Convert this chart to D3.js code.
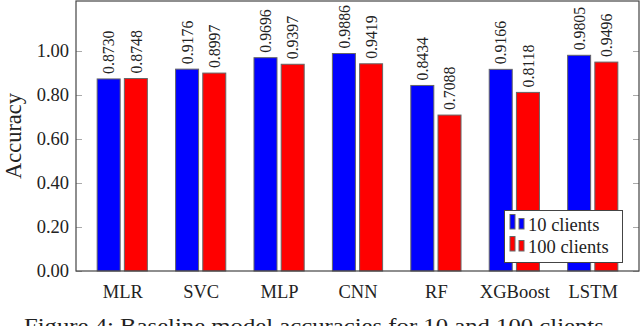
<!DOCTYPE html>
<html>
<head>
<meta charset="utf-8">
<script src="https://cdn.jsdelivr.net/npm/d3@7"></script>
<style>
  body { margin: 0; background: #fff; }
  svg { display: block; font-family: "Liberation Serif", "DejaVu Serif", serif; }
</style>
</head>
<body>
<svg id="chart"></svg>
<script>
// data
const models = ["MLR", "SVC", "MLP", "CNN", "RF", "XGBoost", "LSTM"];
const acc10 = [0.8730, 0.9176, 0.9696, 0.9886, 0.8434, 0.9166, 0.9805];
const acc100 = [0.8748, 0.8997, 0.9397, 0.9419, 0.7088, 0.8118, 0.9496];
const seriesNames = ["10 clients", "100 clients"];
const yTicks = [0, 0.2, 0.4, 0.6, 0.8, 1.0];

const width = 640;
const height = 326;
const plotL = 76, plotR = 639, plotT = 1, plotB = 271;
const yMax = 1.2273;

const svg = d3.select("#chart")
    .attr("width", width)
    .attr("height", height);

const xScale = d3.scalePoint()
    .domain(models)
    .range([plotL, plotR])
    .padding(0.59);

const yScale = d3.scaleLinear()
    .domain([0, yMax])
    .range([plotB, plotT]);

const colors = ["#0000ff", "#ff0000"];
const barW = 23;
const shift = 13.6;

// ticks on both sides, pointing inwards
const yAxis = d3.axisLeft(yScale)
    .tickValues(yTicks)
    .tickSize(-6)
    .tickPadding(7)
    .tickFormat(d3.format(".2f"));

svg.append("g")
    .attr("transform", `translate(${plotL},0)`)
    .call(yAxis)
    .attr("font-family", null)
    .attr("font-size", 18.5)
    .call(g => g.select(".domain").remove())
    .call(g => g.selectAll("line").attr("stroke", "#aaa"))
    .call(g => g.selectAll("text").attr("fill", "#222"));

svg.append("g")
    .attr("transform", `translate(${plotR},0)`)
    .call(d3.axisRight(yScale).tickValues(yTicks).tickSize(-6).tickFormat(""))
    .call(g => g.select(".domain").remove())
    .call(g => g.selectAll("line").attr("stroke", "#aaa"));

// bars
const series = [acc10, acc100];
series.forEach((vals, s) => {
    const off = s === 0 ? -shift : shift;
    svg.append("g")
        .selectAll("rect")
        .data(vals)
        .enter()
        .append("rect")
        .attr("x", (d, i) => xScale(models[i]) + off - barW / 2)
        .attr("y", (d) => yScale(d))
        .attr("width", barW)
        .attr("height", (d) => yScale(0) - yScale(d))
        .attr("fill", colors[s])
        .attr("stroke", "#666")
        .attr("stroke-width", 1);

    svg.append("g")
        .selectAll("text")
        .data(vals)
        .enter()
        .append("text")
        .attr("transform", (d, i) => `translate(${xScale(models[i]) + off},${yScale(d) - 5}) rotate(-90)`)
        .attr("dy", "0.36em")
        .attr("font-size", 15.8)
        .attr("fill", "#222")
        .text((d) => d.toFixed(4));
});

// frame
svg.append("rect")
    .attr("x", plotL)
    .attr("y", plotT)
    .attr("width", plotR - plotL)
    .attr("height", plotB - plotT)
    .attr("fill", "none")
    .attr("stroke", "#444")
    .attr("stroke-width", 1.2);

// category labels
svg.append("g")
    .attr("transform", `translate(0,${plotB})`)
    .call(d3.axisBottom(xScale).tickSize(0).tickPadding(27))
    .attr("font-family", null)
    .attr("font-size", 18.5)
    .call(g => g.select(".domain").remove())
    .call(g => g.selectAll("text")
        .attr("dy", null)
        .attr("fill", "#222"));

// y label
svg.append("text")
    .attr("transform", `translate(21,${(plotT + plotB) / 2}) rotate(-90)`)
    .attr("text-anchor", "middle")
    .attr("font-size", 22.5)
    .attr("fill", "#222")
    .text("Accuracy");

// legend
const legend = svg.append("g").attr("transform", "translate(504.5,210.5)");
legend.append("rect")
    .attr("width", 118)
    .attr("height", 52)
    .attr("fill", "#fff")
    .attr("stroke", "#444")
    .attr("stroke-width", 1);

seriesNames.forEach((name, s) => {
    const row = legend.append("g").attr("transform", `translate(0,${s * 22})`);
    row.append("rect")
        .attr("x", 5.5).attr("y", 4)
        .attr("width", 5).attr("height", 14.5)
        .attr("fill", colors[s]).attr("stroke", "#666");
    row.append("rect")
        .attr("x", 14.5).attr("y", 8)
        .attr("width", 5).attr("height", 10.5)
        .attr("fill", colors[s]).attr("stroke", "#666");
    row.append("text")
        .attr("x", 23.5)
        .attr("y", 20.5)
        .attr("font-size", 18.5)
        .attr("fill", "#222")
        .text(name);
});

// caption, cut off by the bottom edge as in the reference
svg.append("text")
    .attr("x", 24)
    .attr("y", 332.5)
    .attr("font-size", 20)
    .attr("fill", "#222")
    .attr("textLength", 586)
    .attr("lengthAdjust", "spacingAndGlyphs")
    .text("Figure 4: Baseline model accuracies for 10 and 100 clients.");
</script>
</body>
</html>
